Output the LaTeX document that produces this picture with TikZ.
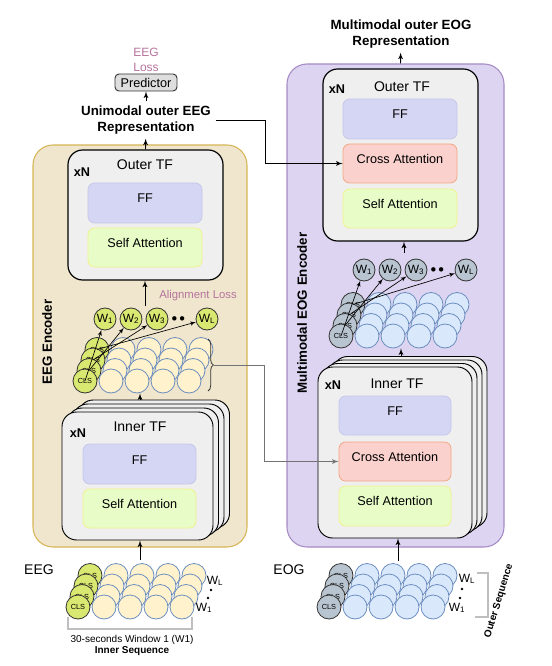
\documentclass[tikz,border=0pt]{standalone}
\usepackage{fontspec}
\setmainfont{Liberation Sans}
\usetikzlibrary{positioning}
\usetikzlibrary{shapes, arrows, fit, decorations.pathreplacing}

\definecolor{eegfill}{HTML}{F0E6CD}
\definecolor{eegline}{HTML}{D6B656}
\definecolor{eogfill}{HTML}{DCD4F0}
\definecolor{eogline}{HTML}{A68BC4}
\definecolor{tfgray}{HTML}{EFEFEF}
\definecolor{fffill}{HTML}{D5D6F3}
\definecolor{ffline}{HTML}{C6C7EA}
\definecolor{safill}{HTML}{E8FCC8}
\definecolor{saline}{HTML}{F2F28A}
\definecolor{cafill}{HTML}{FAD1CD}
\definecolor{caline}{HTML}{F3A683}
\definecolor{clsgreen}{HTML}{D9E870}
\definecolor{clsgray}{HTML}{B8C4D0}
\definecolor{tokyellow}{HTML}{FFF2CC}
\definecolor{tokblue}{HTML}{DAE8FC}
\definecolor{tokline}{HTML}{6C8EBF}
\definecolor{losspink}{HTML}{B5739D}

\begin{document}
\begin{tikzpicture}[x=0.75pt, y=-0.75pt, node distance=19.5pt, auto]
    \tikzstyle{encoder} = [draw, rounded corners=15pt, inner sep=0pt, line width=0.8pt]
    \tikzstyle{tfbox} = [draw, fill=tfgray, rounded corners=11pt, inner sep=0pt,
    line width=0.9pt]
    \tikzstyle{block} = [rounded corners=5pt, inner sep=0pt, line width=0.6pt,
    font=\fontsize{9.5}{11}\selectfont]
    \tikzstyle{ff} = [block, draw=ffline, fill=fffill]
    \tikzstyle{selfatt} = [block, draw=saline, fill=safill]
    \tikzstyle{crossatt} = [block, draw=caline, fill=cafill]
    \tikzstyle{tflabel} = [font=\fontsize{10.5}{12}\selectfont]
    \tikzstyle{xn} = [font=\bfseries\fontsize{9.5}{11}\selectfont]
    \tikzstyle{token} = [circle, draw=tokline, line width=0.6pt, minimum size=18pt,
    inner sep=0pt]
    \tikzstyle{clseeg} = [token, draw=black!80, fill=clsgreen,
    font=\fontsize{5.5}{6}\selectfont]
    \tikzstyle{clseog} = [token, draw=black!80, fill=clsgray,
    font=\fontsize{5.5}{6}\selectfont]
    \tikzstyle{tokeeg} = [token, fill=tokyellow]
    \tikzstyle{tokeog} = [token, fill=tokblue]
    \tikzstyle{weeg} = [clseeg, minimum size=16.5pt, font=\fontsize{9}{10}\selectfont]
    \tikzstyle{weog} = [clseog, minimum size=16.5pt, font=\fontsize{9}{10}\selectfont]
    \tikzstyle{line} = [draw, -latex', line width=0.7pt]
    \tikzstyle{fan} = [draw, -latex', line width=0.5pt]
    \tikzstyle{grayline} = [draw=black!55, -latex', line width=0.7pt]
    \tikzstyle{seqbracket} = [draw=black!25, line width=1pt]
    \tikzstyle{rep} = [align=center, font=\bfseries\fontsize{10}{11.5}\selectfont]
    \tikzstyle{loss} = [text=losspink, align=center, font=\fontsize{9}{11.25}\selectfont]
    \tikzstyle{modality} = [font=\fontsize{10.5}{12}\selectfont]
    \tikzstyle{enclabel} = [rotate=90, font=\bfseries\fontsize{10}{12}\selectfont]
    \tikzstyle{wlabel} = [font=\fontsize{9}{10}\selectfont, inner sep=0pt]
    \tikzstyle{predictor} = [draw=black!80, fill=black!13, rounded corners=3pt,
    minimum width=46.5pt, minimum height=12.75pt, inner sep=0pt, line width=0.7pt,
    font=\fontsize{9.5}{11}\selectfont]
    \useasboundingbox (0,0) rectangle (552,666);
    % encoder panels
    \node [encoder, draw=eegline, fill=eegfill, fit={(33,145) (247,547)}] (eegenc) {};
    \node [encoder, draw=eogline, fill=eogfill, fit={(287,64) (504,547)}] (eogenc) {};
    \node [enclabel] at (47,342) {EEG Encoder};
    \node [enclabel] at (302,313) {Multimodal EOG Encoder};
    % outer transformers
    \node [tfbox, fit={(68,150) (223,280)}] (eegouter) {};
    \node [tflabel] at (145,165) {Outer TF};
    \node [xn] at (82,172) {xN};
    \node [ff, fit={(88,183) (202,223)}] (eegoutff) {FF};
    \node [selfatt, fit={(88,228) (202,267)}] (eegoutsa) {Self Attention};
    \node [tfbox, fit={(323,69) (478,241)}] (eogouter) {};
    \node [tflabel] at (402,87) {Outer TF};
    \node [xn] at (337,89) {xN};
    \node [ff, fit={(343,99) (457,139)}] (eogoutff) {FF};
    \node [crossatt, fit={(343,144) (457,183)}] (eogoutca) {Cross Attention};
    \node [selfatt, fit={(343,189) (457,228)}] (eogoutsa) {Self Attention};
    % inner transformers
    \foreach \s in {3,2,1}
        \draw [tfbox, line width=0.7pt] ({62+5.5*\s},{412-4*\s}) rectangle ({213+5.5*\s},{540-4*\s});
    \node [tfbox, line width=0.7pt, fit={(62,412) (213,540)}] (eeginner) {};
    \node [tflabel] at (140,427) {Inner TF};
    \node [xn] at (78,433) {xN};
    \node [ff, fit={(83,444) (196,484)}] (eeginff) {FF};
    \node [selfatt, fit={(83,489) (196,528)}] (eeginsa) {Self Attention};
    \foreach \s in {3,2,1}
        \draw [tfbox, line width=0.7pt] ({318+5*\s},{367-3.5*\s}) rectangle ({472+5*\s},{538-3.5*\s});
    \node [tfbox, line width=0.7pt, fit={(318,367) (472,538)}] (eoginner) {};
    \node [tflabel] at (397,384) {Inner TF};
    \node [xn] at (333,385) {xN};
    \node [ff, fit={(339,396) (451,435)}] (eoginff) {FF};
    \node [crossatt, fit={(339,442) (451,481)}] (eoginca) {Cross Attention};
    \node [selfatt, fit={(339,486) (451,526)}] (eoginsa) {Self Attention};
    % token grids, back layer first
    \foreach \g/\gx/\gy/\cls/\tok in {eegin/78/607/clseeg/tokeeg, eegmid/85/381/clseeg/tokeeg,
    eogmid/341/336/clseog/tokeog, eogin/329/607/clseog/tokeog}
        \foreach \k in {3,2,1,0} {
            \node [\cls] (\g-0-\k) at ({\gx+4*\k},{\gy-10.5*\k}) {CLS};
            \foreach \j in {1,...,4}
                \node [\tok] (\g-\j-\k) at ({\gx+26*\j+4*\k},{\gy-10.5*\k}) {};
        }
    % window tokens
    \node [weeg] (eegw1) at (105,319) {W\textsubscript{1}};
    \node [weeg, right of=eegw1] (eegw2) {W\textsubscript{2}};
    \node [weeg, right of=eegw2] (eegw3) {W\textsubscript{3}};
    \node [right of=eegw3, node distance=16pt, font=\footnotesize] (eegdots) {$\bullet\,\bullet$};
    \node [weeg, right of=eegw3, node distance=37.5pt] (eegwl) {W\textsubscript{L}};
    \node [weog] (eogw1) at (364,270) {W\textsubscript{1}};
    \node [weog, right of=eogw1] (eogw2) {W\textsubscript{2}};
    \node [weog, right of=eogw2] (eogw3) {W\textsubscript{3}};
    \node [right of=eogw3, node distance=16pt, font=\footnotesize] (eogdots) {$\bullet\,\bullet$};
    \node [weog, right of=eogw3, node distance=37.5pt] (eogwl) {W\textsubscript{L}};
    \foreach \k/\w in {0/eegw1, 1/eegw2, 2/eegw3, 3/eegwl}
        \path [fan] (eegmid-0-\k.center) -- (\w);
    \foreach \k/\w in {0/eogw1, 1/eogw2, 2/eogw3, 3/eogwl}
        \path [fan] (eogmid-0-\k.center) -- (\w);
    \node [text=losspink, font=\fontsize{8.5}{10}\selectfont] at (198,296) {Alignment Loss};
    % representations and predictor
    \node [rep] (eegrep) at (146,120) {Unimodal outer EEG\\Representation};
    \node [rep] (eogrep) at (401,34) {Multimodal outer EOG\\Representation};
    \node [predictor] (predictor) at (146,82.5) {Predictor};
    \node [loss] at (146,59.5) {EEG\\Loss};
    % inputs
    \node [modality] at (39,570) {EEG};
    \node [modality] at (289,570) {EOG};
    \node [wlabel] at (215,581) {W\textsubscript{L}};
    \node [wlabel] at (204,608) {W\textsubscript{1}};
    \fill (211,590) circle (1.1pt);
    \fill (208,598) circle (1.1pt);
    \node [wlabel] at (467,579) {W\textsubscript{L}};
    \node [wlabel] at (457,608) {W\textsubscript{1}};
    \fill (462,589) circle (1.1pt);
    \fill (460,598) circle (1.1pt);
    \draw [seqbracket] (68,617) -- (68,629) -- (192,629) -- (192,617);
    \draw [seqbracket] (477,573) -- (488,573) -- (488,617) -- (475,617);
    \node [align=center, font=\fontsize{7.5}{8.5}\selectfont] at (132,645.5)
    {30-seconds Window 1 (W1)\\\textbf{Inner Sequence}};
    \node [rotate=73, inner sep=1pt, font=\bfseries\fontsize{7.5}{9}\selectfont] at (499,601) {Outer Sequence};
    \draw [decorate, decoration={brace, amplitude=4pt}, black!80, line width=0.6pt]
    (208,339) -- (208,391);
    % connectors
    \coordinate (eeginarrow) at (140,560);
    \coordinate (eeginnertop) at (140,400);
    \coordinate (eegwtop) at (145,306);
    \coordinate (eoginarrow) at (398,561);
    \coordinate (eoginnertop) at (401,356.5);
    \coordinate (eogwtop) at (404,253);
    \coordinate (bracetip) at (214,365);
    \coordinate (graybend) at (264,365);
    \coordinate (repbend) at (265,120);
    \path [line] (eeginarrow) -- (eeginarrow |- eeginner.south);
    \path [line] (eeginnertop) -- (eeginnertop |- eegmid-2-0.south);
    \path [line] (eegwtop) -- (eegwtop |- eegouter.south);
    \path [line] (eoginarrow) -- (eoginarrow |- eoginner.south);
    \path [line] (eoginnertop) -- (eoginnertop |- eogmid-2-0.south);
    \path [line] (eogwtop) -- (eogwtop |- eogouter.south);
    \path [line] (eegouter.north) -- (eegrep);
    \path [line] (eegrep) -- (predictor);
    \path [line] (eogouter.north |- eogenc.north) -- (eogrep);
    \path [line] (eegrep.east) -- (repbend) |- (eogoutca.west);
    \path [grayline] (bracetip) -- (graybend) |- (eoginca.west);
\end{tikzpicture}
\end{document}
